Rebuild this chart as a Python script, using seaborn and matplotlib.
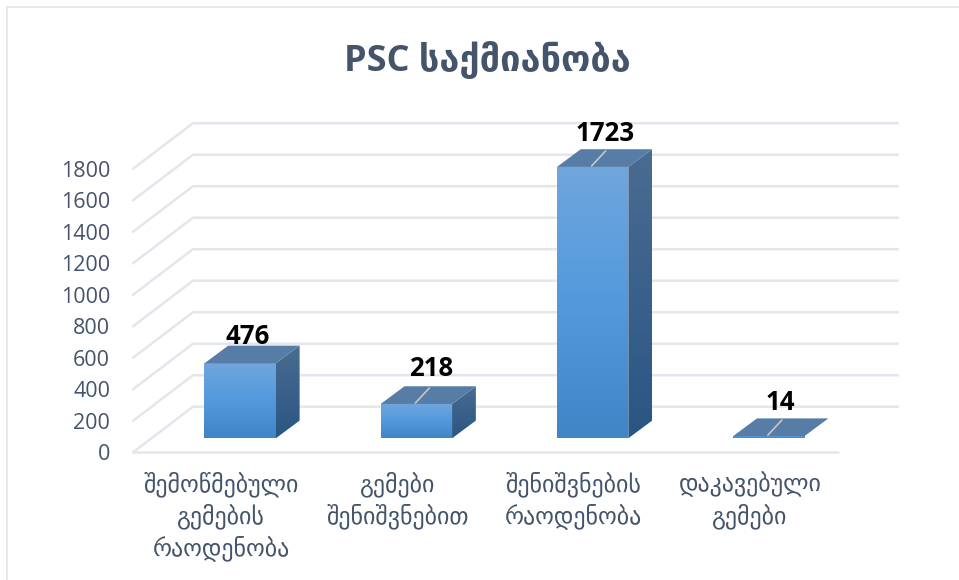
import numpy as np
import pandas as pd
import seaborn as sb
import matplotlib
matplotlib.use('Agg')
import matplotlib.pyplot as plt
from matplotlib.colors import LinearSegmentedColormap
from matplotlib.patches import Polygon
from matplotlib.transforms import Affine2D, IdentityTransform
from matplotlib.lines import Line2D

categories = ['შემოწმებული\nგემების\nრაოდენობა', 'გემები\nშენიშვნებით', 'შენიშვნების\nრაოდენობა', 'დაკავებული\nგემები']
values = [476, 218, 1723, 14]
y_ticks = [0, 200, 400, 600, 800, 1000, 1200, 1400, 1600, 1800]
title = 'PSC საქმიანობა'

TEXT = '#44546a'
GRID = '#e3e6ec'
W, H = 959, 580

sb.set_theme(style='white')
plt.rcParams['font.family'] = ['Open Sans', 'DejaVu Sans']

fig = plt.figure(figsize=(W / 100, H / 100), dpi=100)
# osa je prednja ivica "poda", ostatak 3D izgleda ide pomerajem u pikselima
ax = fig.add_axes([133 / W, 1 - 452.3 / H, 705 / W, 283.5 / H])

df = pd.DataFrame({'cat': categories, 'val': values})
sb.barplot(data=df, x='cat', y='val', color='#5399dc', saturation=1, width=0.405, ax=ax)
ax.set_xlim(-0.5, 3.5)
ax.set_ylim(0, 1800)
ax.set_xlabel('')
ax.set_ylabel('')
sb.despine(ax=ax, left=True, bottom=True)
ax.patch.set_alpha(0)
ax.set_yticks(y_ticks)
ax.tick_params(axis='y', length=0, pad=16.5, labelsize=15.5, labelcolor=TEXT)
ax.set_xticks([])
fig.canvas.draw()

# zidovi: dijagonala + horizontalna linija za svaki tick
wall_dx, wall_dy = 60, 45.6
x_left, x_right = ax.get_xlim()
for t in y_ticks:
    (px0, py), (px1, _) = ax.transData.transform([(x_left, t), (x_right, t)])
    fig.add_artist(Line2D([px0, px0 + wall_dx, px1 + wall_dx], [py, py + wall_dy, py + wall_dy],
                          color=GRID, lw=1.8, transform=IdentityTransform(), zorder=0))
(px0, py), (px1, _) = ax.transData.transform([(x_left, 0), (x_right, 0)])
fig.add_artist(Line2D([px0, px1], [py, py], color=GRID, lw=1.8, transform=IdentityTransform(), zorder=0))


def gradient(verts, colors, z):
    # gradijent odozgo na dole, isecen po poligonu (pikseli)
    verts = np.array(verts)
    cmap = LinearSegmentedColormap.from_list('g', colors)
    grad = np.linspace(0, 1, 256).reshape(-1, 1)
    poly = Polygon(verts, closed=True, transform=IdentityTransform(), fc='none', ec='none')
    ext = (verts[:, 0].min(), verts[:, 0].max(), verts[:, 1].min(), verts[:, 1].max())
    im = ax.imshow(grad, extent=ext, origin='upper', aspect='auto', cmap=cmap,
                   transform=IdentityTransform(), zorder=z)
    im.set_clip_box(fig.bbox)  # strana stuba izlazi iznad ose
    im.set_clip_path(poly)


shift_x, lift = 19.0, 14.0  # stubovi su uvuceni u pod
depth_dx, depth_dy = 23.8, 17.7
label_dx = [8, 15, 12, 11]
label_dy = [27, 35, 33, 34]

for i, bar in enumerate(ax.patches):
    bar.set_transform(ax.transData + Affine2D().translate(shift_x, lift))
    bar.set_clip_on(False)
    (x0, y0) = ax.transData.transform((bar.get_x(), 0))
    (x1, y1) = ax.transData.transform((bar.get_x() + bar.get_width(), bar.get_height()))
    axis_cx = (x0 + x1) / 2
    x0 += shift_x
    x1 += shift_x
    y0 += lift
    y1 += lift
    gradient([(x0, y0), (x1, y0), (x1, y1), (x0, y1)], ['#70a6de', '#5399dc', '#4085c6'], 3)
    # gornja strana
    top = Polygon([(x0, y1), (x1, y1), (x1 + depth_dx, y1 + depth_dy), (x0 + depth_dx, y1 + depth_dy)],
                  closed=True, fc='#577ca6', ec='none', transform=IdentityTransform(), clip_on=False, zorder=4)
    ax.add_artist(top)
    # desna strana
    if y1 - y0 > 4:
        gradient([(x1, y0), (x1 + depth_dx, y0 + depth_dy), (x1 + depth_dx, y1 + depth_dy), (x1, y1)],
                 ['#4a6c91', '#2a5684'], 3)
    cx = (x0 + x1) / 2
    if i > 0:
        ax.add_artist(Line2D([cx - 1, cx + 13], [y1 + 1, y1 + 16], color='#c4c8cc', lw=1.2,
                             transform=IdentityTransform(), clip_on=False, zorder=5))
    ax.text(cx + label_dx[i], y1 + label_dy[i], str(values[i]), transform=IdentityTransform(),
            ha='center', va='center', fontsize=18.5, fontweight='bold', color='black', zorder=6, clip_on=False)
    # kategorija ispod ose
    ax.text(axis_cx, H - 472, categories[i], transform=IdentityTransform(), ha='center', va='top',
            fontsize=17.2, color=TEXT, linespacing=1.3, clip_on=False)

ax.set_xlim(-0.5, 3.5)
ax.set_ylim(0, 1800)

fig.text(487.5 / W, 1 - 61 / H, title, ha='center', va='center', fontsize=26, fontweight='bold', color=TEXT)

# okvir grafika (vidi se samo gore i levo)
fig.add_artist(Line2D([6.5, 6.5, W], [0, H - 7, H - 7], color=GRID, lw=1.3, transform=IdentityTransform(), zorder=0))

fig.savefig('out.png', dpi=100)
